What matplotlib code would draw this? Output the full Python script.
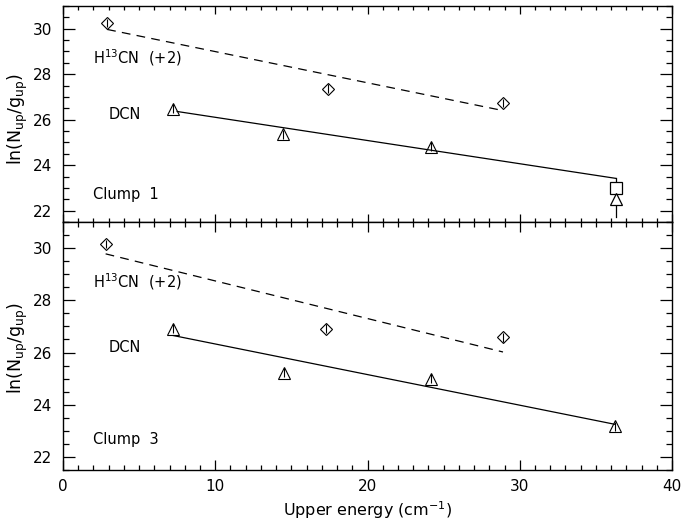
import matplotlib
matplotlib.use('Agg')
import matplotlib.pyplot as plt
from matplotlib.ticker import MultipleLocator

plt.rcParams['font.family'] = ['DejaVu Sans']
plt.rcParams['mathtext.fontset'] = 'dejavusans'

# ---------------- data ----------------
# Clump 1
c1_h13_E = [2.9, 17.4, 28.9]
c1_h13_lnN = [30.26, 27.37, 26.75]
c1_h13_err = [0.18, 0.18, 0.18]
c1_h13_fit_E = [2.9, 28.9]
c1_h13_fit_lnN = [29.97, 26.40]

c1_dcn_E = [7.24, 14.47, 24.2]
c1_dcn_lnN = [26.49, 25.35, 24.82]
c1_dcn_err = [0.2, 0.2, 0.2]
c1_dcn_fit_E = [7.5, 36.3]
c1_dcn_fit_lnN = [26.36, 23.42]

c1_sq_E = [36.3]
c1_sq_lnN = [22.98]
c1_lim_E = [36.3]
c1_lim_lnN = [22.5]
c1_lim_line_E = [36.3, 36.3]
c1_lim_line_lnN = [23.42, 21.72]

# Clump 3
c3_h13_E = [2.8, 17.3, 28.9]
c3_h13_lnN = [30.15, 26.92, 26.58]
c3_h13_err = [0.16, 0.16, 0.16]
c3_h13_fit_E = [2.8, 28.9]
c3_h13_fit_lnN = [29.78, 26.02]

c3_dcn_E = [7.25, 14.5, 24.2, 36.25]
c3_dcn_lnN = [26.92, 25.23, 25.0, 23.17]
c3_dcn_err = [0.17, 0.17, 0.17, 0.17]
c3_dcn_fit_E = [7.25, 36.25]
c3_dcn_fit_lnN = [26.65, 23.25]

x_ticks = [0, 10, 20, 30, 40]
y_ticks = [22, 24, 26, 28, 30]

# ---------------- figure ----------------
fig = plt.figure(figsize=(6.83, 5.25), dpi=100)
ax1 = fig.add_axes([63/683, 1-222/525, 609/683, 216/525])
ax2 = fig.add_axes([63/683, 1-470/525, 609/683, 248/525])

FS = 10.5
TFS = 11
LFS = 12.5
lw = 0.9

def style(ax, xlen, show_xlabels):
    ax.set_xlim(0, 40)
    ax.set_ylim(21.5, 31.0)
    ax.set_xticks(x_ticks)
    ax.set_yticks(y_ticks)
    ax.xaxis.set_minor_locator(MultipleLocator(1))
    ax.yaxis.set_minor_locator(MultipleLocator(0.5))
    ax.tick_params(which='both', direction='in', top=True, right=True,
                   width=0.9, colors='black', labelsize=TFS)
    ax.tick_params(axis='y', which='major', length=8.6, pad=8)
    ax.tick_params(axis='y', which='minor', length=4.3)
    ax.tick_params(axis='x', which='major', length=xlen, pad=6.5)
    ax.tick_params(axis='x', which='minor', length=xlen/2)
    if not show_xlabels:
        ax.tick_params(axis='x', labelbottom=False)
    for s in ax.spines.values():
        s.set_linewidth(1.0)

style(ax1, 5.5, False)
style(ax2, 7.0, True)

mk = dict(mfc='none', mec='black', mew=0.8, ecolor='black', elinewidth=0.8,
          capsize=0, linestyle='none')

# Clump 1
ax1.plot(c1_h13_fit_E, c1_h13_fit_lnN, color='black', lw=lw, dashes=(7, 5))
ax1.errorbar(c1_h13_E, c1_h13_lnN, yerr=c1_h13_err, marker='D', ms=6, **mk)
ax1.plot(c1_dcn_fit_E, c1_dcn_fit_lnN, color='black', lw=lw)
ax1.errorbar(c1_dcn_E, c1_dcn_lnN, yerr=c1_dcn_err, marker='^', ms=8, **mk)
ax1.plot(c1_lim_line_E, c1_lim_line_lnN, color='black', lw=lw)
ax1.plot(c1_sq_E, c1_sq_lnN, marker='s', ms=8, mfc='white', mec='black', mew=0.9, linestyle='none')
ax1.plot(c1_lim_E, c1_lim_lnN, marker='^', ms=8, mfc='white', mec='black', mew=0.9, linestyle='none')

ax1.text(2.0, 28.73, r'H$^{13}$CN  (+2)', fontsize=FS, ha='left', va='center')
ax1.text(3.0, 26.23, 'DCN', fontsize=FS, ha='left', va='center')
ax1.text(2.0, 22.72, 'Clump  1', fontsize=FS, ha='left', va='center')

# Clump 3
ax2.plot(c3_h13_fit_E, c3_h13_fit_lnN, color='black', lw=lw, dashes=(7, 5))
ax2.errorbar(c3_h13_E, c3_h13_lnN, yerr=c3_h13_err, marker='D', ms=6, **mk)
ax2.plot(c3_dcn_fit_E, c3_dcn_fit_lnN, color='black', lw=lw)
ax2.errorbar(c3_dcn_E, c3_dcn_lnN, yerr=c3_dcn_err, marker='^', ms=8, **mk)

ax2.text(2.0, 28.7, r'H$^{13}$CN  (+2)', fontsize=FS, ha='left', va='center')
ax2.text(3.0, 26.2, 'DCN', fontsize=FS, ha='left', va='center')
ax2.text(2.0, 22.65, 'Clump  3', fontsize=FS, ha='left', va='center')

ylab = r'ln(N$_{\rm up}$/g$_{\rm up}$)'
fig.text(18/683, 1-119/525, ylab, rotation=90, ha='center', va='center', fontsize=LFS)
fig.text(18/683, 1-348/525, ylab, rotation=90, ha='center', va='center', fontsize=LFS)
fig.text(368/683, 1-510/525, r'Upper energy (cm$^{-1}$)', ha='center', va='center', fontsize=11.5)

fig.savefig('out.png', dpi=100)
